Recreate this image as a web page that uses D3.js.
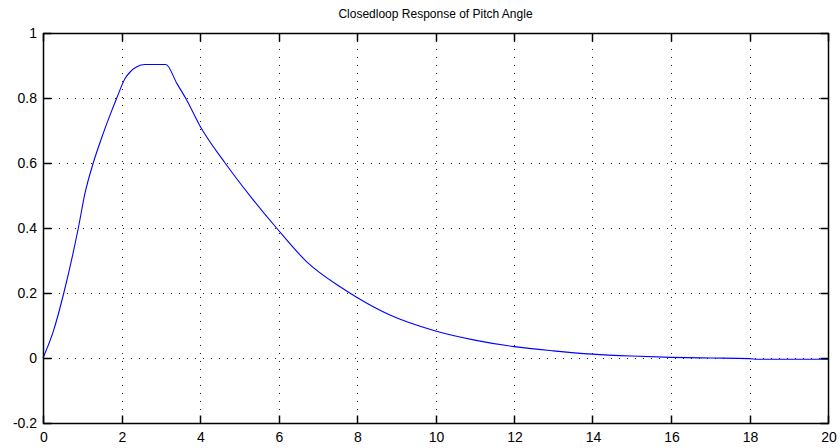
<!DOCTYPE html>
<html><head><meta charset="utf-8">
<script src="https://cdn.jsdelivr.net/npm/d3@7"></script>
<style>body{margin:0;background:#fff;} text{font-family:"Liberation Sans",Arial,sans-serif;}</style>
</head><body><svg id="c" width="840" height="448"></svg>
<script>
const title = "Closedloop Response of Pitch Angle";
const xTicks = [0,2,4,6,8,10,12,14,16,18,20];
const yTicks = [-0.2,0,0.2,0.4,0.6,0.8,1];
const yTickLabels = ["-0.2","0","0.2","0.4","0.6","0.8","1"];
const timeValues = [0,0.26,0.53,0.9,1.07,1.28,1.49,1.71,1.88,2.09,2.22,2.39,2.6,3.13,3.41,3.66,4.0,4.64,5.3,5.95,6.72,7.57,8.0,8.84,10.0,11.0,12.0,13.0,14.0,15.0,16.0,17.0,18.0,18.2,20];
const pitchValues = [0,0.081,0.2,0.4,0.507,0.6,0.676,0.748,0.8,0.86,0.88,0.896,0.903,0.903,0.845,0.794,0.714,0.6,0.495,0.4,0.296,0.219,0.186,0.132,0.083,0.055,0.035,0.022,0.012,0.006,0.002,0.0,-0.002,-0.004,-0.004];

const svg = d3.select("#c");
const L=43,R=828,T=33,B=423;
const x = d3.scaleLinear().domain([0,20]).range([L,R]);
const y = d3.scaleLinear().domain([-0.2,1]).range([B,T]);
const rx = v => Math.round(x(v))+0.5, ry = v => Math.round(y(v))+0.5;

// grid
const g = svg.append("g");
g.selectAll("line.gx").data(xTicks.slice(1,-1)).join("line").attr("class","gx")
  .attr("x1",rx).attr("x2",rx)
  .attr("y1",T).attr("y2",B).attr("stroke","#222").attr("stroke-width",1).attr("stroke-dasharray","1,7");
g.selectAll("line.gy").data(yTicks.slice(1,-1)).join("line").attr("class","gy")
  .attr("y1",ry).attr("y2",ry)
  .attr("x1",L).attr("x2",R).attr("stroke","#222").attr("stroke-width",1).attr("stroke-dasharray","1,7");

// curve
svg.append("path").datum(timeValues.map((t,i)=>[t,pitchValues[i]]))
  .attr("fill","none").attr("stroke","#0000ff").attr("stroke-width",1.1)
  .attr("d",d3.line().curve(d3.curveMonotoneX).x(d=>x(d[0])).y(d=>y(d[1])));

// axes box
svg.append("rect")
  .attr("x",rx(0)).attr("y",ry(1)).attr("width",rx(20)-rx(0)).attr("height",ry(-0.2)-ry(1))
  .attr("fill","none").attr("stroke","#000").attr("stroke-width",1.5);

// inward ticks on all four sides
const tl=8;
const tk = svg.append("g").attr("stroke","#000").attr("stroke-width",1.5);
tk.selectAll("line.tb").data(xTicks).join("line").attr("class","tb")
  .attr("x1",rx).attr("x2",rx).attr("y1",ry(-0.2)).attr("y2",ry(-0.2)-tl);
tk.selectAll("line.tt").data(xTicks).join("line").attr("class","tt")
  .attr("x1",rx).attr("x2",rx).attr("y1",ry(1)).attr("y2",ry(1)+tl);
tk.selectAll("line.tl").data(yTicks).join("line").attr("class","tl")
  .attr("y1",ry).attr("y2",ry).attr("x1",rx(0)).attr("x2",rx(0)+tl);
tk.selectAll("line.tr").data(yTicks).join("line").attr("class","tr")
  .attr("y1",ry).attr("y2",ry).attr("x1",rx(20)).attr("x2",rx(20)-tl);

// labels
const lab = svg.append("g").attr("fill","#000").attr("font-size",14);
lab.selectAll("text.xl").data(xTicks).join("text").attr("class","xl")
  .attr("x",d=>x(d)+1).attr("y",B+19).attr("text-anchor","middle").text(d=>String(d));
lab.selectAll("text.yl").data(yTicks).join("text").attr("class","yl")
  .attr("x",L-6).attr("y",d=>y(d)+5).attr("text-anchor","end").text((d,i)=>yTickLabels[i]);

svg.append("text").attr("x",(L+R)/2).attr("y",18).attr("text-anchor","middle")
  .attr("font-size",12).attr("fill","#000").text(title);
</script></body></html>
